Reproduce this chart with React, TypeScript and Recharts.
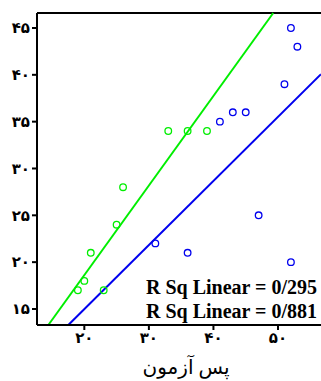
import { ScatterChart, Scatter, XAxis, YAxis, ReferenceLine } from 'recharts';

const greenX = [19, 20, 21, 23, 25, 26, 33, 36, 39];
const greenY = [17, 18, 21, 17, 24, 28, 34, 34, 34];
const blueX = [31, 36, 41, 43, 45, 47, 51, 52, 53, 52];
const blueY = [22, 21, 35, 36, 36, 25, 39, 45, 43, 20];

// fit lines at the plot edges
const greenFit = [{ x: 14.43, y: 13.29 }, { x: 49.26, y: 46.6 }];
const blueFit = [{ x: 17.52, y: 13.29 }, { x: 56.66, y: 40.07 }];

const xTicks = [20, 30, 40, 50];
const yTicks = [15, 20, 25, 30, 35, 40, 45];
const xDomain = [12.67, 56.66];
const yDomain = [13.29, 46.6];

const rSqLabels = ['R Sq Linear = 0/295', 'R Sq Linear = 0/881'];
const xTitle = 'پس آزمون';

const GREEN = '#00ee00';
const BLUE = '#0000ee';

const faDigits = '۰۱۲۳۴۵۶۷۸۹';
const toFa = (v: number) => String(v).replace(/\d/g, (d) => faDigits[+d]);

const greenData = greenX.map((x, i) => ({ x, y: greenY[i] }));
const blueData = blueX.map((x, i) => ({ x, y: blueY[i] }));

const ring = (color: string) => (props: any) => (
  <circle cx={props.cx} cy={props.cy} r={3.3} fill="none" stroke={color} strokeWidth={1.3} />
);

const tickStyle = { fill: '#000', fontSize: 15, fontWeight: 700, fontFamily: '"DejaVu Sans"' };

export default function App() {
  return (
    <div style={{ position: 'absolute', left: 0, top: 0, width: 321, height: 381, background: '#fff' }}>
      <ScatterChart width={321} height={381} margin={{ top: 13, right: 0, bottom: 0, left: 0 }}>
        <XAxis
          type="number"
          dataKey="x"
          domain={xDomain}
          ticks={xTicks}
          tickFormatter={toFa}
          allowDataOverflow
          height={56}
          tickSize={5}
          stroke="#000"
          strokeWidth={2}
          tick={tickStyle}
        />
        <YAxis
          type="number"
          dataKey="y"
          domain={yDomain}
          ticks={yTicks}
          tickFormatter={toFa}
          allowDataOverflow
          width={37}
          tickSize={5}
          stroke="#000"
          strokeWidth={2}
          tick={tickStyle}
        />
        <ReferenceLine y={yDomain[1]} stroke="#000" strokeWidth={2} />
        <ReferenceLine segment={greenFit} stroke={GREEN} strokeWidth={2} />
        <ReferenceLine segment={blueFit} stroke={BLUE} strokeWidth={2} />
        <Scatter data={greenData} shape={ring(GREEN)} isAnimationActive={false} />
        <Scatter data={blueData} shape={ring(BLUE)} isAnimationActive={false} />
      </ScatterChart>
      {rSqLabels.map((t, i) => (
        <div
          key={t}
          style={{
            position: 'absolute',
            right: 4,
            top: 275 + i * 24,
            fontFamily: '"Liberation Serif"',
            fontWeight: 700,
            fontSize: 20,
            lineHeight: '24px',
            whiteSpace: 'nowrap',
            color: '#000',
          }}
        >
          {t}
        </div>
      ))}
      <div
        style={{
          position: 'absolute',
          left: 186,
          top: 355,
          transform: 'translateX(-50%)',
          fontFamily: '"Liberation Serif", "DejaVu Sans"',
          fontSize: 20,
          lineHeight: '24px',
          whiteSpace: 'nowrap',
          color: '#000',
          direction: 'rtl',
        }}
      >
        {xTitle}
      </div>
    </div>
  );
}
